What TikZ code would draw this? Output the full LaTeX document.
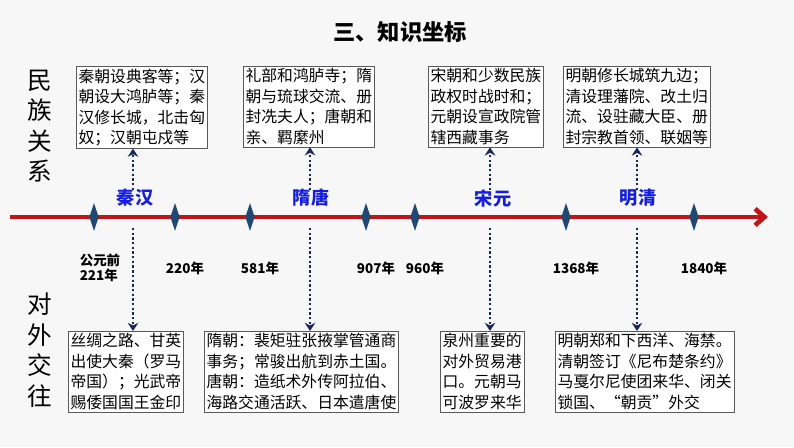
\documentclass[tikz,border=0pt]{standalone}
\usepackage{fontspec}
\setmainfont{Noto Sans CJK SC}
\usetikzlibrary{arrows.meta,shapes.geometric}
\definecolor{axisred}{RGB}{192,20,24}
\definecolor{gemblue}{RGB}{31,73,115}
\definecolor{eraBlue}{RGB}{20,30,220}
\definecolor{arrownavy}{RGB}{25,40,90}
\tikzset{
  infobox/.style={draw=gray!70!black, fill=white, inner sep=2pt, align=left, anchor=north west,
    font=\fontsize{13.5}{17.5}\selectfont},
  gem/.style={diamond, fill=gemblue, minimum width=8pt, minimum height=24pt, inner sep=0pt, aspect=0.3},
  era/.style={text=eraBlue, font=\bfseries\fontsize{15.5}{17}\selectfont},
  yearlabel/.style={font=\bfseries\fontsize{11.5}{13}\selectfont, align=left},
  sidelabel/.style={font=\fontsize{21}{26}\selectfont, align=center},
  link/.style={arrownavy, line width=1.8pt, dash pattern=on 2pt off 2pt, -{Stealth[length=7pt,width=9pt]}}
}
\begin{document}
\begin{tikzpicture}[x=0.03cm,y=-0.03cm]
\fill[gray!6] (0,0) rectangle (794,447);
\useasboundingbox (0,0) rectangle (794,447);
\node[font=\bfseries\fontsize{19}{22}\selectfont] (title) at (400,32) {三、知识坐标};
\node[sidelabel] (minzu) at (40,126) {民\\族\\关\\系};
\node[sidelabel] (duiwai) at (40,350) {对\\外\\交\\往};
% time axis
\draw[axisred, line width=4pt, -{Straight Barb[length=8pt,width=14pt]}] (10,217) -- (768,217);
\foreach \x [count=\i] in {94,175,250,366,415,566,694}{
  \node[gem] (g\i) at (\x,217) {};
}
\node[yearlabel] (y1) at (100,268) {公元前\\221年};
\foreach \x/\yr [count=\i from 2] in {175/220年,250/581年,366/907年,415/960年,566/1368年,694/1840年}{
  \node[yearlabel] (y\i) at (\x+10,268) {\yr};
}
% eras
\node[era] (qinhan) at (135,198) {秦汉};
\node[era] (suitang) at (311,198) {隋唐};
\node[era] (songyuan) at (493,198) {宋元};
\node[era] (mingqing) at (638,198) {明清};
% top boxes
\node[infobox] (t1) at (76,66) {秦朝设典客等；汉\\朝设大鸿胪等；秦\\汉修长城，北击匈\\奴；汉朝屯戍等};
\node[infobox] (t2) at (243,66) {礼部和鸿胪寺；隋\\朝与琉球交流、册\\封冼夫人；唐朝和\\亲、羁縻州};
\node[infobox] (t3) at (428,66) {宋朝和少数民族\\政权时战时和；\\元朝设宣政院管\\辖西藏事务};
\node[infobox] (t4) at (563,66) {明朝修长城筑九边；\\清设理藩院、改土归\\流、设驻藏大臣、册\\封宗教首领、联姻等};
% bottom boxes
\node[infobox] (b1) at (68,331) {丝绸之路、甘英\\出使大秦（罗马\\帝国）；光武帝\\赐倭国国王金印};
\node[infobox] (b2) at (204,331) {隋朝：裴矩驻张掖掌管通商\\事务；常骏出航到赤土国。\\唐朝：造纸术外传阿拉伯、\\海路交通活跃、日本遣唐使};
\node[infobox] (b3) at (440,331) {泉州重要的\\对外贸易港\\口。元朝马\\可波罗来华};
\node[infobox] (b4) at (555,331) {明朝郑和下西洋、海禁。\\清朝签订《尼布楚条约》\\马戛尔尼使团来华、闭关\\锁国、“朝贡”外交};
% links
\foreach \x/\t/\b in {133/t1/b1,310/t2/b2,490/t3/b3,637/t4/b4}{
  \coordinate (up\t) at (\x,190);
  \coordinate (dn\b) at (\x,228);
  \draw[link] (up\t) -- (\t.south -| up\t);
  \draw[link] (dn\b) -- (\b.north -| dn\b);
}
\end{tikzpicture}
\end{document}
